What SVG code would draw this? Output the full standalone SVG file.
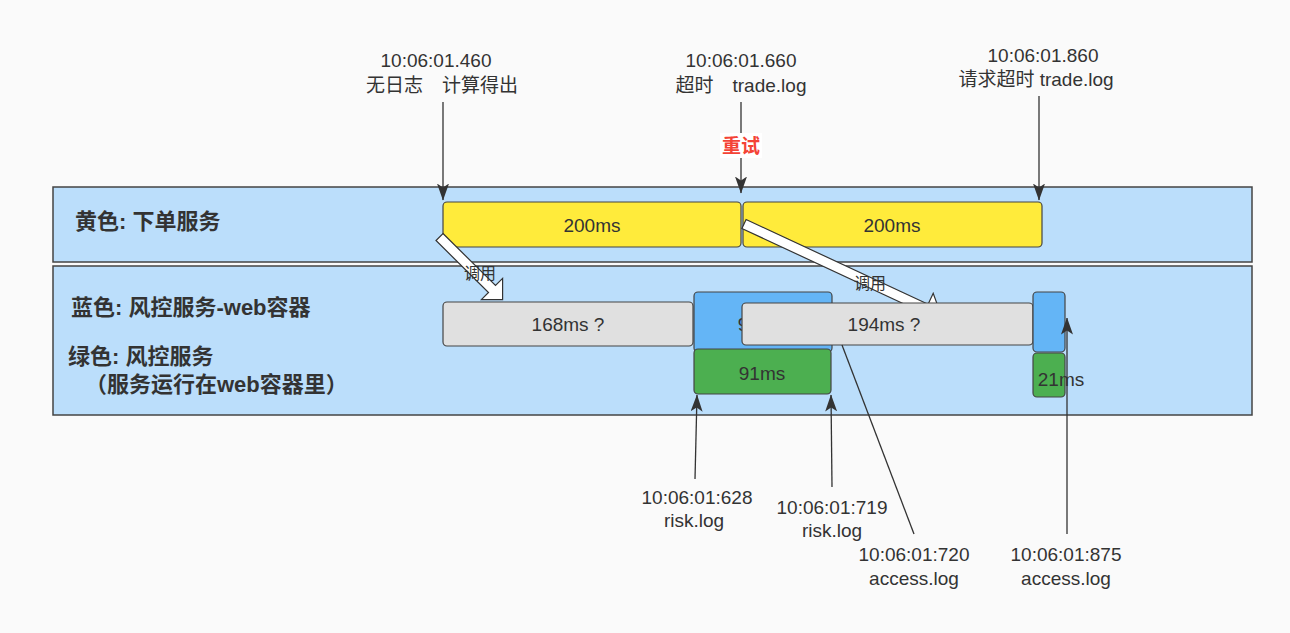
<svg xmlns="http://www.w3.org/2000/svg" width="1290" height="633" viewBox="0 0 1290 633">
  <defs>
    <marker id="ah" viewBox="0 0 17 12" refX="16.5" refY="6" markerWidth="17" markerHeight="12" markerUnits="userSpaceOnUse" orient="auto">
      <path d="M17,6 L0,0 L4,6 L0,12 Z" fill="#333"/>
    </marker>
    <style>
      text { font-family: "Liberation Sans", "Noto Sans CJK SC", sans-serif; fill: #333; }
      .band { fill: #bbdefb; stroke: #444; stroke-width: 1.5; }
      .box { stroke: #444; stroke-width: 1.2; }
      .yellow { fill: #ffeb3b; }
      .gray { fill: #e0e0e0; }
      .blue { fill: #64b5f6; }
      .green { fill: #4caf50; }
      .bt { font-size: 19px; text-anchor: middle; }
      .lbl { font-size: 19px; text-anchor: middle; }
      .side { font-size: 22px; font-weight: 600; }
      .call { font-size: 16px; text-anchor: middle; }
      .fat { fill: #fff; stroke: #333; stroke-width: 1.2; stroke-linejoin: miter; }
      .conn { stroke: #333; stroke-width: 1.3; fill: none; }
    </style>
  </defs>

  <rect x="0" y="0" width="1290" height="633" fill="#fafafa"/>

  <g id="band-order">
    <rect class="band" x="53" y="187" width="1199" height="75"/>
    <text class="side" x="75" y="229">黄色: 下单服务</text>
  </g>
  <g id="band-risk">
    <rect class="band" x="53" y="266" width="1199" height="149"/>
    <text class="side" x="71" y="315">蓝色: 风控服务-web容器</text>
    <text class="side" x="68" y="364">绿色: 风控服务</text>
    <text class="side" x="85" y="392">（服务运行在web容器里）</text>
  </g>

  <g id="order-1">
    <rect class="box yellow" x="443" y="202" width="298" height="45" rx="4"/>
    <text class="bt" x="592" y="232">200ms</text>
  </g>
  <g id="order-2">
    <rect class="box yellow" x="743" y="202" width="299" height="45" rx="4"/>
    <text class="bt" x="892" y="232">200ms</text>
  </g>

  <g id="web-1">
    <rect class="box blue" x="694" y="292" width="138" height="60" rx="4"/>
    <text class="bt" x="761" y="331">91ms</text>
  </g>
  <g id="risk-1">
    <rect class="box green" x="694" y="349" width="137" height="45" rx="4"/>
    <text class="bt" x="762" y="380">91ms</text>
  </g>
  <g id="wait-1">
    <rect class="box gray" x="443" y="302" width="250" height="44" rx="4"/>
    <text class="bt" x="568" y="331">168ms ?</text>
  </g>

  <g id="call-arrows">
    <polygon class="fat" points="443,233.5 495.5,285.5 502.6,278.4 502.6,299.6 481.4,299.6 488.5,292.5 436,240.5"/>
    <text class="call" x="480" y="279">调用</text>
    <polygon class="fat" points="746.1,219.5 928.1,304.2 933.2,293.3 941.4,315.9 918.8,324.1 923.9,313.2 741.9,228.5"/>
    <text class="call" x="870" y="289">调用</text>
  </g>

  <g id="wait-2">
    <rect class="box gray" x="742" y="303" width="291" height="42" rx="4"/>
    <text class="bt" x="884" y="331">194ms ?</text>
  </g>
  <g id="web-2">
    <rect class="box blue" x="1033" y="292" width="32" height="60" rx="4"/>
  </g>
  <g id="risk-2">
    <rect class="box green" x="1033" y="353" width="32" height="44" rx="4"/>
    <text class="bt" x="1061" y="386">21ms</text>
  </g>

  <g id="connectors">
    <path class="conn" d="M443,102 V200" marker-end="url(#ah)"/>
    <path class="conn" d="M741,102 V193" marker-end="url(#ah)"/>
    <path class="conn" d="M1039,96 V200" marker-end="url(#ah)"/>
    <path class="conn" d="M695,479 L697,395" marker-end="url(#ah)"/>
    <path class="conn" d="M832,487 L831,395" marker-end="url(#ah)"/>
    <path class="conn" d="M914,534 L842,345"/>
    <path class="conn" d="M1067,534 V318" marker-end="url(#ah)"/>
    <rect x="720" y="133" width="42" height="25" fill="#fff"/>
    <text x="741" y="153" style="font-size:19px;font-weight:700;fill:#f44336;text-anchor:middle">重试</text>
  </g>

  <g id="labels">
    <text class="lbl" x="436" y="67">10:06:01.460</text>
    <text class="lbl" x="442" y="92">无日志　计算得出</text>
    <text class="lbl" x="741" y="67">10:06:01.660</text>
    <text class="lbl" x="741" y="92">超时　trade.log</text>
    <text class="lbl" x="1043" y="62">10:06:01.860</text>
    <text class="lbl" x="1036" y="86">请求超时 trade.log</text>
    <text class="lbl" x="697" y="504">10:06:01:628</text>
    <text class="lbl" x="694" y="527">risk.log</text>
    <text class="lbl" x="832" y="514">10:06:01:719</text>
    <text class="lbl" x="832" y="537">risk.log</text>
    <text class="lbl" x="914" y="561">10:06:01:720</text>
    <text class="lbl" x="914" y="585">access.log</text>
    <text class="lbl" x="1066" y="561">10:06:01:875</text>
    <text class="lbl" x="1066" y="585">access.log</text>
  </g>
</svg>
